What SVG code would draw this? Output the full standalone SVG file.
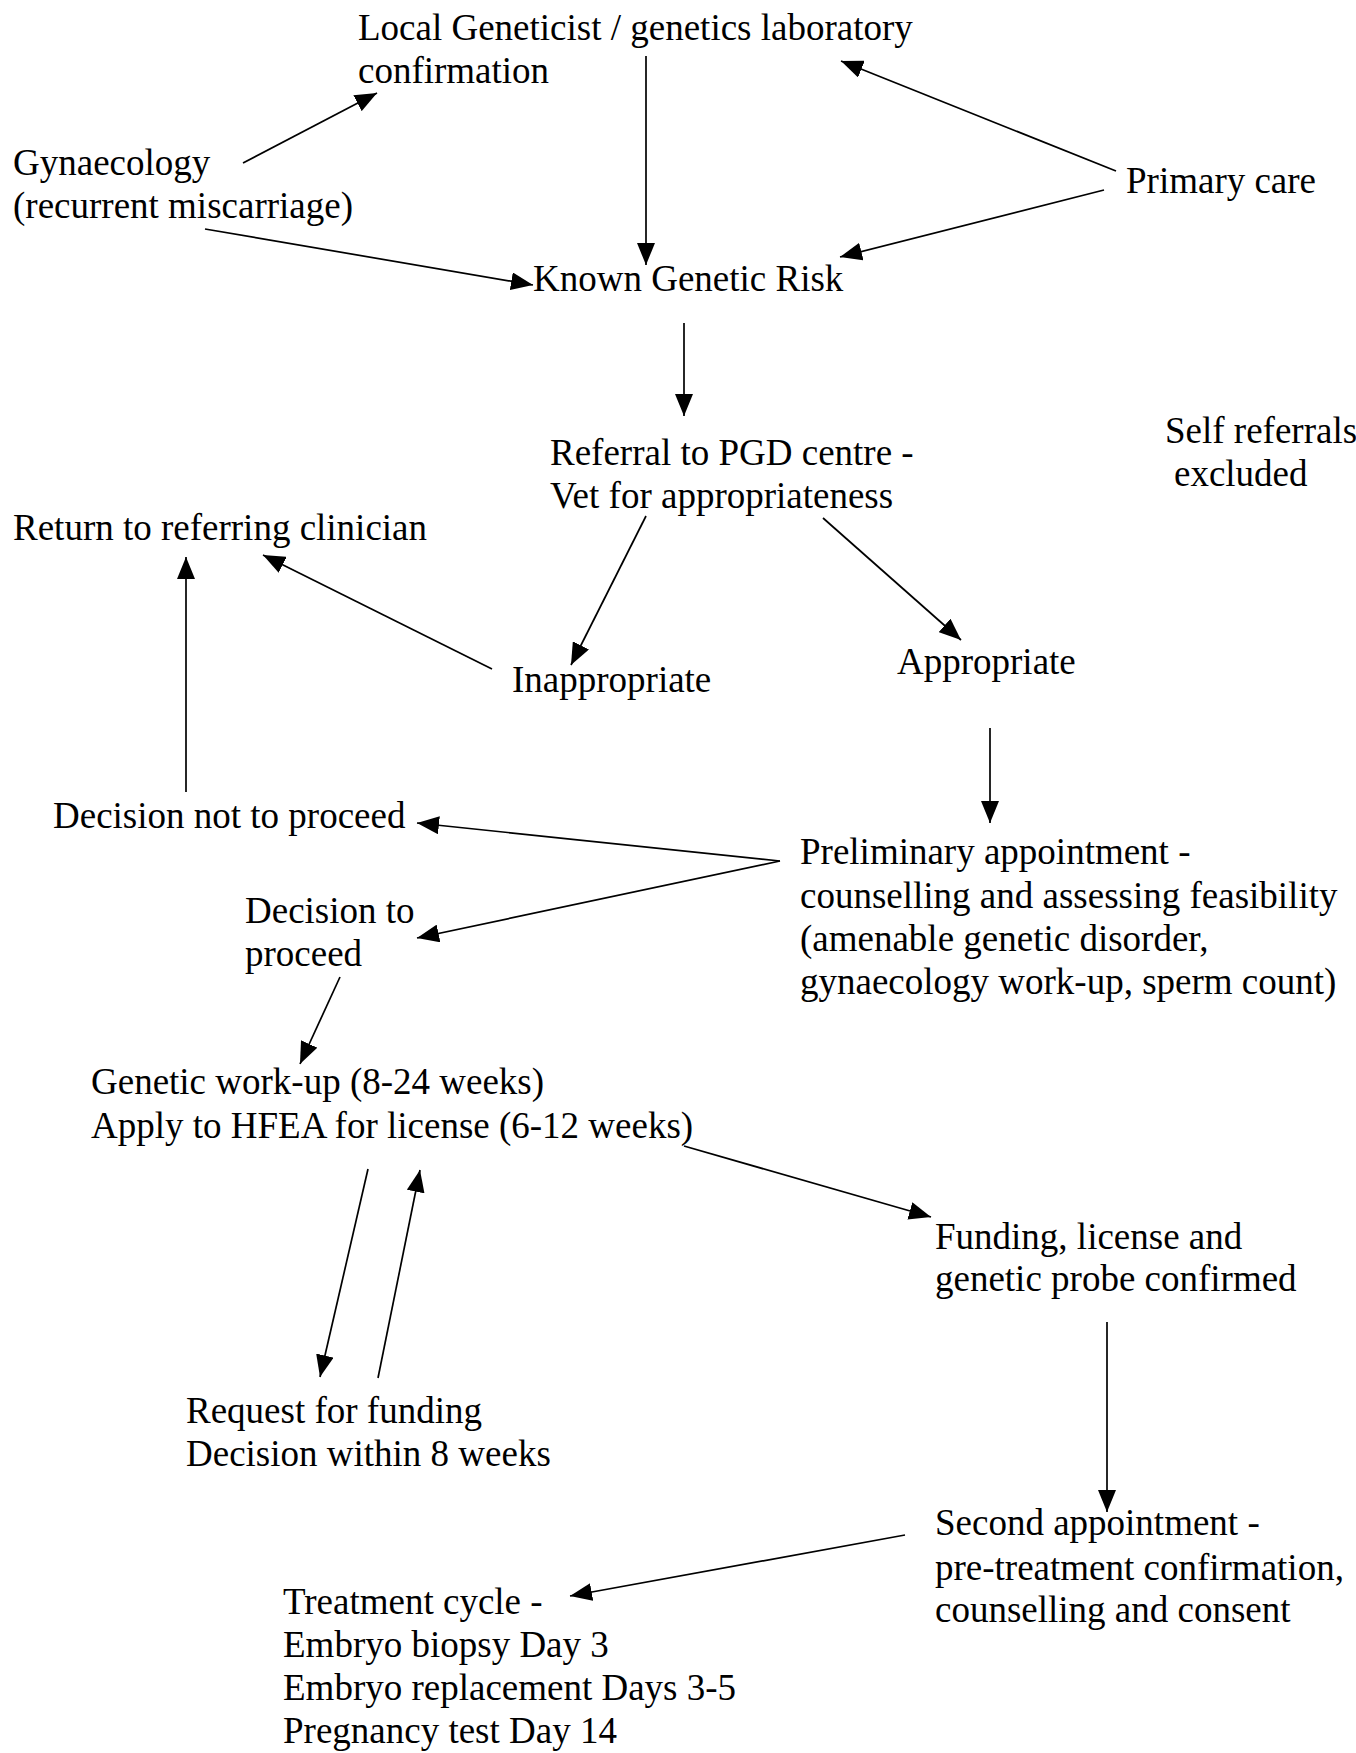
<svg xmlns="http://www.w3.org/2000/svg" width="1356" height="1753" viewBox="0 0 1356 1753">
<defs>
<marker id="ah" markerUnits="userSpaceOnUse" markerWidth="24" markerHeight="18" refX="22" refY="9" orient="auto">
<path d="M0,0 L22,9 L0,18 z" fill="#000"/>
</marker>
<style>
text{font-family:"Liberation Serif","Times New Roman",serif;font-size:37px;fill:#000}
.c line{stroke:#000;stroke-width:1.7;marker-end:url(#ah)}
</style>
</defs>
<rect width="1356" height="1753" fill="#fff"/>
<g id="n-local"><text x="358" y="40">Local Geneticist / genetics laboratory</text><text x="358" y="83">confirmation</text></g>
<g id="n-gyn"><text x="13" y="175">Gynaecology</text><text x="13" y="218">(recurrent miscarriage)</text></g>
<g id="n-primary"><text x="1126" y="193">Primary care</text></g>
<g id="n-known"><text x="533" y="291">Known Genetic Risk</text></g>
<g id="n-referral"><text x="550" y="465">Referral to PGD centre -</text><text x="550" y="508">Vet for appropriateness</text></g>
<g id="n-self"><text x="1165" y="443">Self referrals</text><text x="1174" y="486">excluded</text></g>
<g id="n-return"><text x="13" y="540">Return to referring clinician</text></g>
<g id="n-inapp"><text x="512" y="692">Inappropriate</text></g>
<g id="n-app"><text x="897" y="674">Appropriate</text></g>
<g id="n-notproceed"><text x="53" y="828">Decision not to proceed</text></g>
<g id="n-prelim"><text x="800" y="864">Preliminary appointment -</text><text x="800" y="908">counselling and assessing feasibility</text><text x="800" y="951">(amenable genetic disorder,</text><text x="800" y="994">gynaecology work-up, sperm count)</text></g>
<g id="n-proceed"><text x="245" y="923">Decision to</text><text x="245" y="966">proceed</text></g>
<g id="n-workup"><text x="91" y="1094">Genetic work-up (8-24 weeks)</text><text x="91" y="1138">Apply to HFEA for license (6-12 weeks)</text></g>
<g id="n-funding"><text x="935" y="1249">Funding, license and</text><text x="935" y="1291">genetic probe confirmed</text></g>
<g id="n-request"><text x="186" y="1423">Request for funding</text><text x="186" y="1466">Decision within 8 weeks</text></g>
<g id="n-second"><text x="935" y="1535">Second appointment -</text><text x="935" y="1580">pre-treatment confirmation,</text><text x="935" y="1622">counselling and consent</text></g>
<g id="n-treatment"><text x="283" y="1614">Treatment cycle -</text><text x="283" y="1657">Embryo biopsy Day 3</text><text x="283" y="1700">Embryo replacement Days 3-5</text><text x="283" y="1743">Pregnancy test Day 14</text></g>
<g id="connectors" class="c">
<line x1="243" y1="163" x2="377" y2="93"/>
<line x1="646" y1="56" x2="646" y2="265"/>
<line x1="1116" y1="171" x2="841" y2="61"/>
<line x1="1104" y1="190" x2="840" y2="257"/>
<line x1="205" y1="229" x2="533" y2="285"/>
<line x1="684" y1="323" x2="684" y2="416"/>
<line x1="646" y1="516" x2="571" y2="665"/>
<line x1="823" y1="518" x2="961" y2="640"/>
<line x1="492" y1="669" x2="263" y2="555"/>
<line x1="186" y1="792" x2="186" y2="557"/>
<line x1="990" y1="728" x2="990" y2="823"/>
<line x1="780" y1="861" x2="417" y2="823"/>
<line x1="780" y1="861" x2="417" y2="938"/>
<line x1="340" y1="977" x2="300" y2="1064"/>
<line x1="684" y1="1146" x2="931" y2="1217"/>
<line x1="368" y1="1169" x2="320" y2="1377"/>
<line x1="378" y1="1378" x2="420" y2="1170"/>
<line x1="1107" y1="1322" x2="1107" y2="1512"/>
<line x1="905" y1="1535" x2="570" y2="1596"/>
</g>
</svg>
